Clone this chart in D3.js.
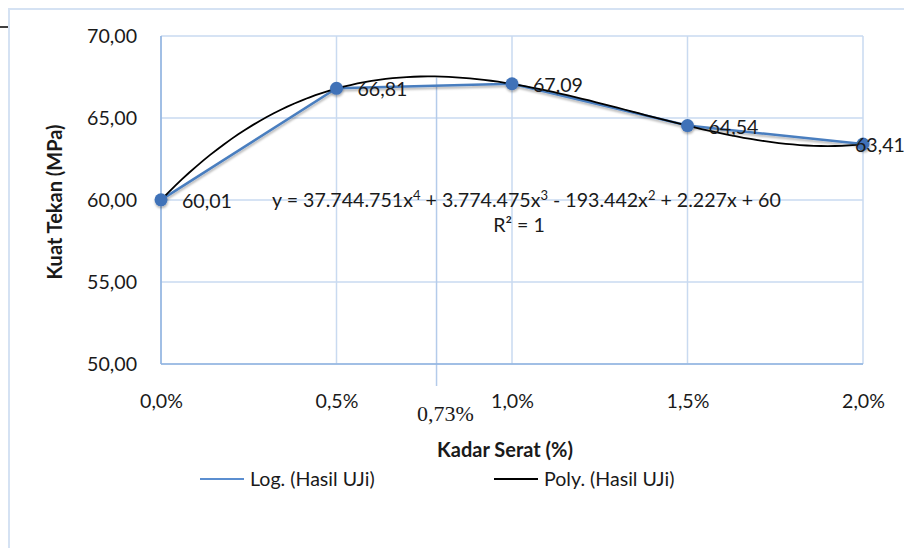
<!DOCTYPE html>
<html lang="en">
<head>
    <meta charset="UTF-8">
    <title>Kuat Tekan</title>
    <script src="https://cdn.jsdelivr.net/npm/d3@7/dist/d3.min.js"></script>
    <style>
        body { margin: 0; background: #fff; }
        #chart { width: 904px; height: 548px; }
        text { font-family: Lato, "Open Sans", sans-serif; fill: #1a1a1a; }
    </style>
</head>
<body>
<div id="chart"></div>
<script type="text/javascript">
    // data
    var kadar = [0, 0.005, 0.01, 0.015, 0.02];
    var kuat = [60.01, 66.81, 67.09, 64.54, 63.41];
    var labels = ['60,01', '66,81', '67,09', '64,54', '63,41'];
    var xTicks = [0, 0.005, 0.01, 0.015, 0.02];
    var xTickLabels = ['0,0%', '0,5%', '1,0%', '1,5%', '2,0%'];
    var yTicks = [50, 55, 60, 65, 70];
    var yTickLabels = ['50,00', '55,00', '60,00', '65,00', '70,00'];
    // poly trendline coefficients, a0 + a1 x + ... + a4 x^4
    var polyCoef = [60, 2227, -193442, 3774475, 37744751];
    // hand-drawn marker line (labelled 0,73%)
    var markX = 0.00785;

    var svgw = 904, svgh = 548;
    var fs = 19.6;
    var svg = d3.select('#chart').append('svg')
        .attr('width', svgw).attr('height', svgh);

    // outer frame
    svg.append('rect').attr('x', 9).attr('y', 9).attr('width', 1000).attr('height', 1000)
        .attr('fill', 'none').attr('stroke', '#d5e2f3').attr('stroke-width', 2);
    svg.append('line').attr('x1', 0).attr('x2', 8).attr('y1', 27).attr('y2', 27)
        .attr('stroke', '#000').attr('stroke-width', 1.5);

    var pL = 161, pR = 863, pT = 36, pB = 364;
    var x_scale = d3.scaleLinear().domain([0, 0.02]).range([pL, pR]);
    var y_scale = d3.scaleLinear().domain([50, 70]).range([pB, pT]);

    var poly = function (x) {
        return polyCoef.reduce(function (s, c, k) { return s + c * Math.pow(x, k); }, 0);
    };

    // grid
    svg.append('g').selectAll('line').data(yTicks).enter().append('line')
        .attr('x1', pL).attr('x2', pR)
        .attr('y1', function (d) { return y_scale(d); })
        .attr('y2', function (d) { return y_scale(d); })
        .attr('stroke', '#c9daf0').attr('stroke-width', 1.5);
    svg.append('g').selectAll('line').data(xTicks).enter().append('line')
        .attr('x1', function (d) { return x_scale(d); })
        .attr('x2', function (d) { return x_scale(d); })
        .attr('y1', pT).attr('y2', pB)
        .attr('stroke', '#c9daf0').attr('stroke-width', 1.5);
    // marker line
    svg.append('line')
        .attr('x1', x_scale(markX)).attr('x2', x_scale(markX))
        .attr('y1', y_scale(poly(markX)) + 1).attr('y2', pB + 22)
        .attr('stroke', '#b4cbea').attr('stroke-width', 1.5);

    // plot border: left and bottom darker
    svg.append('line').attr('x1', pL).attr('x2', pL).attr('y1', pT).attr('y2', pB)
        .attr('stroke', '#8fb3e0').attr('stroke-width', 1.5);
    svg.append('line').attr('x1', pL).attr('x2', pR).attr('y1', pB).attr('y2', pB)
        .attr('stroke', '#8fb3e0').attr('stroke-width', 1.5);

    // axes labels
    var y_axis = d3.axisLeft(y_scale).tickValues(yTicks)
        .tickFormat(function (d, i) { return yTickLabels[i]; }).tickSize(0).tickPadding(24);
    var gy = svg.append('g').attr('transform', 'translate(' + pL + ',0)').call(y_axis);
    gy.select('.domain').remove();
    gy.selectAll('text').attr('font-size', fs).style('font-family', 'Lato, sans-serif').attr('fill', '#1a1a1a');

    var x_axis = d3.axisBottom(x_scale).tickValues(xTicks)
        .tickFormat(function (d, i) { return xTickLabels[i]; }).tickSize(0).tickPadding(30);
    var gx = svg.append('g').attr('transform', 'translate(0,' + pB + ')').call(x_axis);
    gx.select('.domain').remove();
    gx.selectAll('text').attr('font-size', fs).style('font-family', 'Lato, sans-serif').attr('fill', '#1a1a1a');

    svg.append('text').text('0,73%')
        .attr('x', x_scale(markX) + 9).attr('y', 421)
        .attr('text-anchor', 'middle').attr('font-size', 22)
        .style('font-family', '"Liberation Serif", "Times New Roman", serif');

    svg.append('text').text('Kadar Serat (%)')
        .attr('x', 505).attr('y', 457).attr('text-anchor', 'middle')
        .attr('font-size', 20).attr('font-weight', 'bold');
    svg.append('text').text('Kuat Tekan (MPa)')
        .attr('transform', 'translate(62,202) rotate(-90)').attr('text-anchor', 'middle')
        .attr('font-size', 20).attr('font-weight', 'bold');

    var defs = svg.append('defs');
    var f = defs.append('filter').attr('id', 'sh').attr('x', '-50%').attr('y', '-50%')
        .attr('width', '200%').attr('height', '200%');
    f.append('feDropShadow').attr('dx', 0.5).attr('dy', 2).attr('stdDeviation', 1.3)
        .attr('flood-color', '#000').attr('flood-opacity', 0.3);

    // series line
    var line = d3.line()
        .x(function (d, i) { return x_scale(kadar[i]); })
        .y(function (d) { return y_scale(d); });
    svg.append('path').datum(kuat).attr('d', line)
        .attr('fill', 'none').attr('stroke', '#4a7ebf').attr('stroke-width', 2.5)
        .attr('filter', 'url(#sh)');

    // poly trendline
    var xs = d3.range(0, 0.02 + 1e-9, 0.0002);
    var trend = d3.line()
        .x(function (d) { return x_scale(d); })
        .y(function (d) { return y_scale(poly(d)); });
    svg.append('path').datum(xs).attr('d', trend)
        .attr('fill', 'none').attr('stroke', '#000').attr('stroke-width', 1.8);

    // markers
    svg.append('g').selectAll('circle').data(kuat).enter().append('circle')
        .attr('cx', function (d, i) { return x_scale(kadar[i]); })
        .attr('cy', function (d) { return y_scale(d); })
        .attr('r', 6.5).attr('fill', '#3f72b8').attr('filter', 'url(#sh)');

    // data labels (last one sits over its marker, as in the original)
    svg.append('g').selectAll('text').data(kuat).enter().append('text')
        .text(function (d, i) { return labels[i]; })
        .attr('x', function (d, i) { return x_scale(kadar[i]) + (i === kuat.length - 1 ? -8 : 21); })
        .attr('y', function (d) { return y_scale(d) + 8; })
        .attr('font-size', fs);

    // equation
    var eq = svg.append('text').attr('x', 272).attr('y', 207).attr('font-size', fs);
    var parts = [['y = 37.744.751x', '4'], [' + 3.774.475x', '3'], [' - 193.442x', '2'], [' + 2.227x + 60', '']];
    parts.forEach(function (p, i) {
        eq.append('tspan').text(p[0]).attr('dy', i === 0 ? 0 : 7);
        if (p[1]) eq.append('tspan').text(p[1]).attr('font-size', 13).attr('dy', -7);
    });
    svg.append('text').attr('x', 519).attr('y', 232).attr('text-anchor', 'middle')
        .attr('font-size', fs).text('R² = 1');

    // legend
    var lg = [{ name: 'Log. (Hasil UJi)', color: '#5b8ed0', x: 200 }, { name: 'Poly. (Hasil UJi)', color: '#000', x: 494 }];
    lg.forEach(function (d) {
        svg.append('line').attr('x1', d.x).attr('x2', d.x + 44).attr('y1', 479).attr('y2', 479)
            .attr('stroke', d.color).attr('stroke-width', 2);
        svg.append('text').text(d.name).attr('x', d.x + 50).attr('y', 486).attr('font-size', fs);
    });
</script>
</body>
</html>
